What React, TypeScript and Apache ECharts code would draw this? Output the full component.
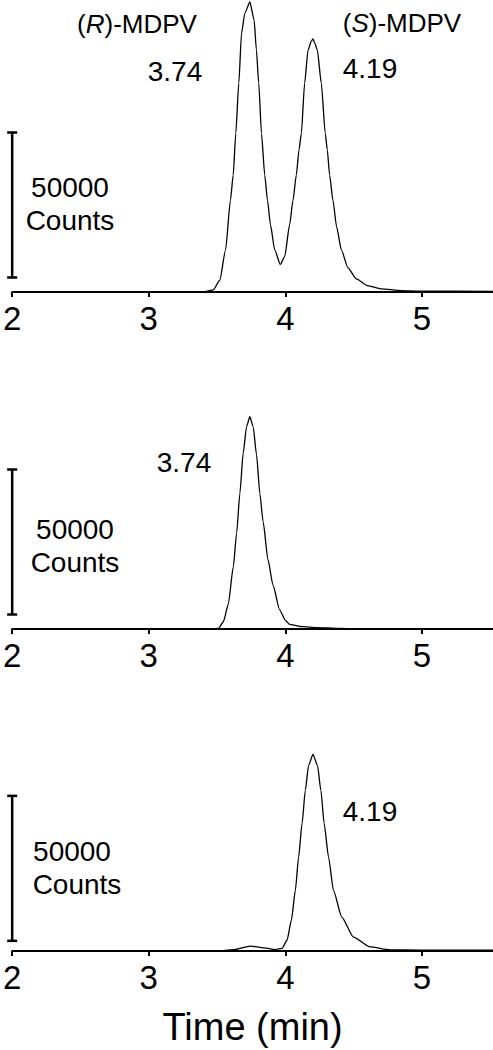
import React, { useEffect, useRef } from "react";
import * as echarts from "echarts";

// ---- Data (time in min, signal in counts) ----
// Panel 1: racemic MDPV
const timeRacemic = [2.0, 3.0, 3.4, 3.472, 3.52, 3.562, 3.598, 3.618, 3.637, 3.659, 3.679, 3.703, 3.74, 3.771, 3.788, 3.805, 3.825, 3.849, 3.869, 3.891, 3.922, 3.963, 3.995, 4.031, 4.056, 4.08, 4.1, 4.117, 4.141, 4.166, 4.19, 4.202, 4.214, 4.234, 4.263, 4.292, 4.307, 4.324, 4.348, 4.375, 4.41, 4.458, 4.52, 4.6, 4.7, 4.85, 5.0, 5.52];
const countsRacemic = [0, 0, 0, 700, 4100, 14500, 31700, 40300, 54700, 72000, 89200, 96100, 100000, 93800, 83400, 72000, 54700, 40300, 31700, 23100, 14500, 9500, 12200, 23100, 31700, 40300, 49000, 54700, 72000, 83400, 86500, 87300, 86000, 83400, 72000, 54700, 49000, 40300, 31700, 22500, 14500, 8300, 4500, 2200, 1100, 500, 300, 200];

// Panel 2: (R)-MDPV
const timeR = [2.0, 3.0, 3.45, 3.51, 3.546, 3.582, 3.619, 3.643, 3.667, 3.691, 3.716, 3.74, 3.764, 3.789, 3.813, 3.837, 3.873, 3.91, 3.958, 4.0, 4.031, 4.128, 4.226, 4.395, 4.6, 5.52];
const countsR = [0, 0, 0, 200, 2500, 8500, 21500, 33000, 46800, 60600, 69800, 73200, 69800, 60000, 46800, 37000, 23800, 15000, 6600, 3000, 1600, 800, 500, 200, 0, 0];

// Panel 3: (S)-MDPV
const timeS = [2.0, 3.0, 3.5, 3.62, 3.745, 3.842, 3.927, 3.976, 4.012, 4.044, 4.073, 4.097, 4.122, 4.146, 4.17, 4.202, 4.235, 4.26, 4.284, 4.316, 4.352, 4.413, 4.498, 4.62, 4.765, 5.0, 5.52];
const countsS = [0, 0, 0, 450, 1700, 1100, 500, 900, 3700, 10600, 20900, 32400, 43900, 55400, 64000, 67800, 64000, 55400, 43900, 32400, 20900, 11700, 4800, 1400, 400, 300, 300];

const tickValues = [2, 3, 4, 5];
const xMin = 2;
const xMax = 5.52;
const yMaxes = [100000, 80000, 80000];
// scale bar (50000 counts) drawn at t = 2, [bottom, top]
const scaleBars = [
  [5000, 55000],
  [5000, 55000],
  [3500, 53500],
];
const scaleLabelLines = ["50000", "Counts"];
const compoundLabels = ["({i|R})-MDPV", "({i|S})-MDPV"];
const retentionLabels = ["3.74", "4.19"];
const axisTitle = "Time (min)";

const FONT = "'Liberation Sans', Arial, Helvetica, sans-serif";

export default function App() {
  const ref = useRef<HTMLDivElement>(null);

  useEffect(() => {
    if (!ref.current) return;
    document.body.style.margin = "0";
    const chart = echarts.init(ref.current, undefined, { renderer: "svg" });

    const grids = [
      { left: 10, top: 2, width: 483, height: 290 },
      { left: 11, top: 397, width: 483, height: 232 },
      { left: 11, top: 719, width: 483, height: 232 },
    ];

    const xAxes = grids.map((_, i) => ({
      type: "value",
      gridIndex: i,
      min: xMin,
      max: xMax,
      splitLine: { show: false },
      axisLine: { show: true, onZero: false, lineStyle: { color: "#000", width: 2 } },
      axisTick: {
        show: true,
        customValues: tickValues,
        length: 5,
        inside: false,
        lineStyle: { color: "#000", width: 2 },
      },
      axisLabel: {
        customValues: tickValues,
        fontSize: 33,
        color: "#000",
        fontFamily: FONT,
        margin: 10,
      },
      ...(i === 2
        ? {
            name: axisTitle,
            nameLocation: "middle",
            nameGap: 76,
            nameTextStyle: {
              fontSize: 38,
              color: "#000",
              fontFamily: FONT,
              verticalAlign: "middle",
            },
          }
        : {}),
    }));

    const yAxes = grids.map((_, i) => ({
      type: "value",
      gridIndex: i,
      min: 0,
      max: yMaxes[i],
      show: false,
      splitLine: { show: false },
    }));

    const traces = [
      [timeRacemic, countsRacemic],
      [timeR, countsR],
      [timeS, countsS],
    ];

    const series: any[] = [];
    traces.forEach(([t, c], i) => {
      series.push({
        type: "line",
        xAxisIndex: i,
        yAxisIndex: i,
        data: t.map((x, k) => [x, c[k]]),
        showSymbol: false,
        symbol: "none",
        smooth: 0.2,
        smoothMonotone: "x",
        clip: false,
        silent: true,
        lineStyle: { color: "#000", width: 1.3 },
      });
      series.push({
        type: "line",
        xAxisIndex: i,
        yAxisIndex: i,
        data: [
          [xMin, scaleBars[i][0]],
          [xMin, scaleBars[i][1]],
        ],
        symbol: "rect",
        symbolSize: [10, 2.5],
        showSymbol: true,
        clip: false,
        silent: true,
        itemStyle: { color: "#000" },
        lineStyle: { color: "#000", width: 2.5 },
      });
    });

    const txt = (text: string, x: number, y: number, size: number, rich?: boolean) => ({
      type: "text",
      x,
      y,
      silent: true,
      style: {
        text,
        fontSize: size,
        fontFamily: FONT,
        fill: "#000",
        align: "center",
        verticalAlign: "middle",
        ...(rich
          ? { rich: { i: { fontStyle: "italic", fontSize: size, fontFamily: FONT, fill: "#000" } } }
          : {}),
      },
    });

    const graphic = [
      txt(compoundLabels[0], 137, 24, 26, true),
      txt(retentionLabels[0], 175, 71, 28),
      txt(compoundLabels[1], 402, 23, 26, true),
      txt(retentionLabels[1], 370, 68, 28),
      txt(scaleLabelLines[0], 70, 187, 28),
      txt(scaleLabelLines[1], 70, 220, 28),

      txt(retentionLabels[0], 184, 462, 28),
      txt(scaleLabelLines[0], 75, 529, 28),
      txt(scaleLabelLines[1], 75, 562, 28),

      txt(retentionLabels[1], 370, 811, 28),
      txt(scaleLabelLines[0], 72, 851, 28),
      txt(scaleLabelLines[1], 77, 884, 28),
    ];

    chart.setOption({
      animation: false,
      backgroundColor: "#fff",
      grid: grids,
      xAxis: xAxes,
      yAxis: yAxes,
      series,
      graphic,
    });

    return () => chart.dispose();
  }, []);

  return (
    <div
      ref={ref}
      style={{ position: "absolute", left: 0, top: 0, width: 493, height: 1050 }}
    />
  );
}
